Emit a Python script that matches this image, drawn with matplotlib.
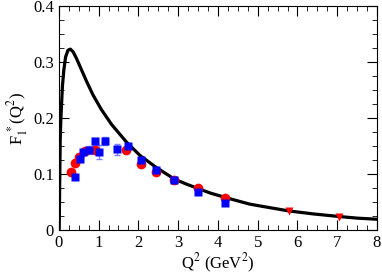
import numpy as np
import matplotlib.pyplot as plt
from matplotlib.ticker import MultipleLocator

# ---------- Data ----------
# model curve
curve_q2 = [0.01, 0.02, 0.035, 0.05, 0.07, 0.09, 0.126, 0.17, 0.23, 0.29, 0.36,
            0.44, 0.57, 0.70, 0.86, 1.07, 1.33, 1.70, 2.04, 2.44, 2.90, 3.20,
            3.50, 3.80, 4.18, 4.80, 5.20, 5.77, 6.40, 7.03, 7.50, 8.0]
curve_f1 = [0.003, 0.070, 0.161, 0.196, 0.226, 0.256, 0.286, 0.309, 0.321, 0.323,
            0.318, 0.307, 0.286, 0.265, 0.241, 0.215, 0.188, 0.157, 0.133, 0.112,
            0.091, 0.082, 0.074, 0.066, 0.058, 0.046, 0.041, 0.034, 0.0285, 0.024,
            0.021, 0.019]

# red circles
red_q2 = [0.30, 0.40, 0.50, 0.65, 0.90, 1.70, 2.06, 2.44, 2.90, 3.49, 4.18]
red_f1 = [0.104, 0.120, 0.131, 0.141, 0.143, 0.143, 0.117, 0.103, 0.090, 0.074, 0.057]

# red down triangles
tri_q2 = [5.79, 7.04]
tri_f1 = [0.033, 0.023]

# blue squares with errors
blue_q2 = [0.40, 0.53, 0.62, 0.76, 0.91, 1.01, 1.16, 1.45, 1.74, 2.06, 2.44, 2.90, 3.50, 4.18]
blue_f1 = [0.095, 0.126, 0.140, 0.142, 0.158, 0.139, 0.159, 0.144, 0.149, 0.125, 0.107, 0.090, 0.068, 0.048]
blue_err = [0.003, 0.005, 0.005, 0.007, 0.007, 0.012, 0.007, 0.010, 0.005, 0.004, 0.003, 0.003, 0.003, 0.003]

# ---------- Figure ----------
plt.rcParams['font.family'] = 'Liberation Serif'
plt.rcParams['mathtext.fontset'] = 'stix'

fig = plt.figure(figsize=(3.82, 2.74), dpi=100)
ax = fig.add_axes([0.154, 0.161, 0.833, 0.817])

ax.plot(curve_q2, curve_f1, color='black', lw=2.3, zorder=2,
        solid_joinstyle='round')
ax.errorbar(blue_q2, blue_f1, yerr=blue_err, fmt='none', ecolor='#7f7fff',
            elinewidth=1.0, capsize=2.5, capthick=1.0, zorder=3)
ax.plot(red_q2, red_f1, 'o', color='red', ms=7, mec='none', zorder=3)
ax.plot(tri_q2, tri_f1, 'v', color='red', ms=5.5, mec='none', zorder=3)
ax.plot(blue_q2, blue_f1, 's', color='blue', ms=5.5, mec='none', zorder=4)

ax.set_xlim(0, 8)
ax.set_ylim(0, 0.4)
ax.xaxis.set_major_locator(MultipleLocator(1))
ax.xaxis.set_minor_locator(MultipleLocator(0.25))
ax.yaxis.set_minor_locator(MultipleLocator(0.025))
ax.set_yticks([0, 0.1, 0.2, 0.3, 0.4])
ax.set_yticklabels(['0', '0.1', '0.2', '0.3', '0.4'])

ax.tick_params(which='both', direction='in', top=True, right=True, labelsize=12)
ax.tick_params(which='major', length=7, width=0.8)
ax.tick_params(which='minor', length=3.5, width=0.6)

ax.set_xlabel(r'Q$^2$ (GeV$^2$)', fontsize=12, labelpad=1)
ax.set_ylabel(r'F$_1^{\;*}$(Q$^2$)', fontsize=12, labelpad=2)

fig.savefig('out.png', dpi=100)
